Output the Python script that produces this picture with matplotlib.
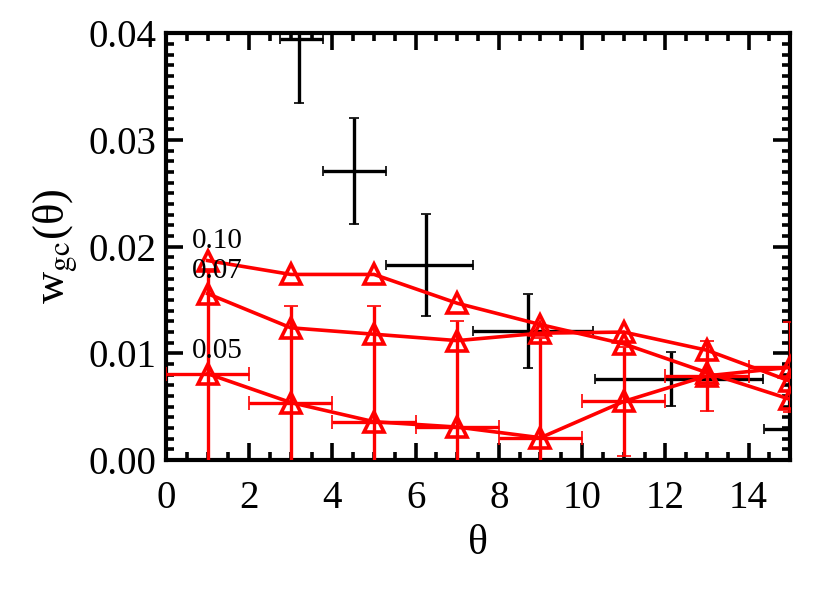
import matplotlib
matplotlib.use("Agg")
import matplotlib.pyplot as plt

# black points (clipped ones lie at the frame edge)
theta_bk = [3.19, 4.52, 6.24, 8.71, 12.14, 16.8]
w_bk = [0.0395, 0.0271, 0.0183, 0.0121, 0.0076, 0.0029]
w_bk_err = [0.0060, 0.0050, 0.0048, 0.0035, 0.0025, 0.0040]
theta_bk_lo = [0.45, 0.75, 0.96, 1.34, 1.84, 2.43]
theta_bk_hi = [0.58, 0.76, 1.13, 1.56, 2.21, 2.43]

# red series, labelled by threshold
theta_red = [1, 3, 5, 7, 9, 11, 13, 15]
w_010 = [0.0187, 0.0174, 0.0174, 0.0147, 0.0127, 0.0109, 0.0082, 0.0057]
w_007 = [0.0156, 0.0124, 0.0118, 0.0112, 0.0119, 0.0120, 0.0103, 0.0074]
w_005 = [0.0081, 0.0054, 0.0036, 0.0031, 0.0021, 0.0055, 0.0079, 0.0087]
w_005_err = [0.0098, 0.0090, 0.0108, 0.0099, 0.0093, 0.0051, 0.0033, 0.0042]
theta_005_err = [1.0] * 8

series_labels = ["0.10", "0.07", "0.05"]
label_y = [0.0205, 0.0177, 0.0102]

plt.rcParams["font.family"] = ["Liberation Serif", "DejaVu Serif"]
plt.rcParams["mathtext.fontset"] = "stix"

fig = plt.figure(figsize=(8.3, 5.93), dpi=100)
ax = fig.add_axes([0.2, 0.224, 0.752, 0.72])

# black measurements
ax.errorbar(theta_bk, w_bk, yerr=w_bk_err, xerr=[theta_bk_lo, theta_bk_hi],
            fmt="none", ecolor="black", elinewidth=2.4, capsize=3.5,
            capthick=1.2, zorder=2)

# red lines with open triangles
ax.errorbar(theta_red, w_005, yerr=w_005_err, xerr=theta_005_err,
            fmt="none", ecolor="red", elinewidth=2.4, capsize=5,
            capthick=1.2, zorder=3)
for w in [w_010, w_007, w_005]:
    ax.plot(theta_red, w, color="red", lw=2.6, marker="^", markersize=15,
            markerfacecolor="none", markeredgecolor="red", markeredgewidth=2.6,
            zorder=4)

for lab, yy in zip(series_labels, label_y):
    ax.text(0.62, yy, lab, fontsize=21, color="black", va="center", zorder=5)

ax.set_xlim(0, 15)
ax.set_ylim(0, 0.0395)
ax.set_xticks([0, 2, 4, 6, 8, 10, 12, 14])
ax.set_xticks([i * 0.5 for i in range(31)], minor=True)
ax.set_yticks([0.0, 0.01, 0.02, 0.03, 0.04])
ax.set_yticks([i * 0.001 for i in range(40)], minor=True)
ax.set_yticklabels(["0.00", "0.01", "0.02", "0.03", "0.04"])

ax.tick_params(which="both", direction="in", top=True, right=True,
               labelsize=28, width=2.6)
ax.tick_params(axis="x", which="major", pad=14)
ax.tick_params(axis="y", which="major", pad=7)
ax.tick_params(which="major", length=12)
ax.tick_params(which="minor", length=6)
for sp in ax.spines.values():
    sp.set_linewidth(3)

ax.set_xlabel("θ", fontsize=30, labelpad=6)
ax.set_ylabel(r"w$_{\rm gc}$(θ)", fontsize=32, labelpad=6)

fig.savefig("out.png", dpi=100)
